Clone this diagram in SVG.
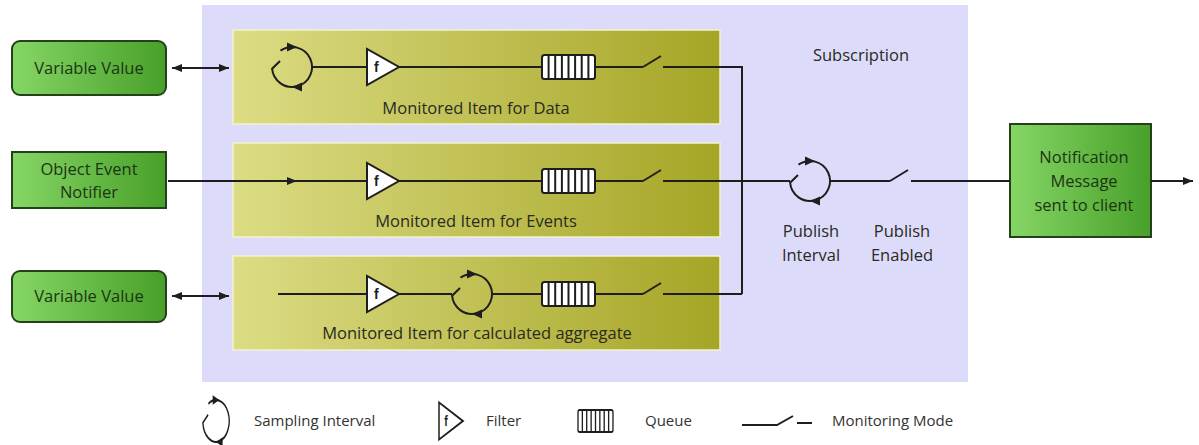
<svg xmlns="http://www.w3.org/2000/svg" width="1199" height="445" viewBox="0 0 1199 445">
<style>
.lbl{font-family:"Open Sans","Liberation Sans",sans-serif;font-size:16.5px;fill:#2a2a22;text-anchor:middle}
.glbl{font-family:"Open Sans","Liberation Sans",sans-serif;font-size:16.5px;fill:#1c3512;text-anchor:middle}
.leg{font-family:"Open Sans","Liberation Sans",sans-serif;font-size:15px;fill:#333}
.ln{stroke:#1e1e1e;stroke-width:2;fill:none}
.mi{fill:url(#mig);stroke:#f2f2d0;stroke-width:1.5}
.gb{fill:url(#gg);stroke:#23421a;stroke-width:2}
.sym{stroke:#1e1e1e;stroke-width:2;fill:none}
.ah{fill:#1e1e1e}
.flt{fill:#fff;stroke:#1e1e1e;stroke-width:2}
.fx{font-family:"Liberation Sans",sans-serif;font-weight:bold;font-size:14px;fill:#1e1e1e}
.q{fill:#fff;stroke:#1e1e1e;stroke-width:2}
</style>
<defs>
<linearGradient id="mig" x1="0" y1="0" x2="1" y2="0">
<stop offset="0" stop-color="#dcdc84"/>
<stop offset="1" stop-color="#a5a526"/>
</linearGradient>
<linearGradient id="gg" x1="0" y1="0" x2="1" y2="0">
<stop offset="0" stop-color="#86d665"/>
<stop offset="1" stop-color="#48a02a"/>
</linearGradient>
<marker id="arr" viewBox="0 0 10 8" refX="10" refY="4" markerWidth="11" markerHeight="8" markerUnits="userSpaceOnUse" orient="auto-start-reverse">
<path d="M0,0 L10,4 L0,8 Z" fill="#1e1e1e"/>
</marker>
<g id="samp">
<path class="sym" d="M-11.5,-16.4 A20,20 0 1 1 -19.9,1.7 L-12,-6"/>
<path class="ah" d="M5,-20 L-5,-24.5 L-5,-15.5 Z"/>
<path class="ah" d="M0,20 L10,15.5 L10,24.5 Z"/>
</g>
<g id="filt">
<path class="flt" d="M0,-18 L0,18 L32,0 Z"/>
<text class="fx" x="7" y="5">f</text>
</g>
<g id="queue">
<rect class="q" x="0" y="-12" width="53" height="24" rx="2.5"/>
<path class="sym" d="M6.6,-12V12M13.2,-12V12M19.9,-12V12M26.5,-12V12M33.1,-12V12M39.7,-12V12M46.4,-12V12"/>
</g>
<g id="switch">
<path class="sym" d="M0,0 L18,-11"/>
</g>
</defs>

<g id="subscription">
<rect x="202" y="5" width="766" height="377" fill="#dcdcfa"/>
<text class="lbl" x="861" y="61">Subscription</text>
</g>

<g id="mi-data">
<rect class="mi" x="233" y="30" width="487" height="94"/>
<text class="lbl" x="476" y="114">Monitored Item for Data</text>
</g>
<g id="mi-events">
<rect class="mi" x="233" y="143" width="487" height="94"/>
<text class="lbl" x="476" y="227">Monitored Item for Events</text>
</g>
<g id="mi-agg">
<rect class="mi" x="233" y="256" width="487" height="94"/>
<text class="lbl" x="477" y="339">Monitored Item for calculated aggregate</text>
</g>

<g id="var-value-1">
<rect class="gb" x="12" y="41" width="154" height="54" rx="8"/>
<text class="glbl" x="89" y="74">Variable Value</text>
</g>
<g id="object-event-notifier">
<rect class="gb" x="12" y="152" width="154" height="56"/>
<text class="glbl" x="89" y="175">Object Event</text>
<text class="glbl" x="89" y="198">Notifier</text>
</g>
<g id="var-value-2">
<rect class="gb" x="12" y="271" width="154" height="51" rx="8"/>
<text class="glbl" x="89" y="302">Variable Value</text>
</g>
<g id="notification-message">
<rect class="gb" x="1010" y="124" width="141" height="113"/>
<text class="glbl" x="1084" y="163">Notification</text>
<text class="glbl" x="1084" y="187">Message</text>
<text class="glbl" x="1084" y="211">sent to client</text>
</g>

<g id="connectors">
<path class="ln" d="M172,68 H229" marker-start="url(#arr)" marker-end="url(#arr)"/>
<path class="ln" d="M172,296 H229" marker-start="url(#arr)" marker-end="url(#arr)"/>
<path class="ln" d="M168,181 H297" marker-end="url(#arr)"/>
<path class="ln" d="M297,181 H367"/>
<!-- row 1 -->
<path class="ln" d="M312,67 H367 M399,67 H542 M595,67 H643 M663,67 H742 V294"/>
<!-- row 2 -->
<path class="ln" d="M399,181 H542 M595,181 H643 M663,181 H790 M830,181 H890 M911,181 H1010"/>
<!-- row 3 -->
<path class="ln" d="M278,294 H367 M399,294 H452 M492,294 H542 M595,294 H643 M663,294 H742"/>
<path class="ln" d="M1151,181 H1193" marker-end="url(#arr)"/>
</g>

<g id="sampling-data"><use href="#samp" x="292" y="67"/></g>
<g id="filter-data"><use href="#filt" x="367" y="67"/></g>
<g id="queue-data"><use href="#queue" x="542" y="67"/></g>
<g id="switch-data"><use href="#switch" x="643" y="67"/></g>

<g id="filter-events"><use href="#filt" x="367" y="181"/></g>
<g id="queue-events"><use href="#queue" x="542" y="181"/></g>
<g id="switch-events"><use href="#switch" x="643" y="181"/></g>

<g id="filter-agg"><use href="#filt" x="367" y="294"/></g>
<g id="sampling-agg"><use href="#samp" x="472" y="294"/></g>
<g id="queue-agg"><use href="#queue" x="542" y="294"/></g>
<g id="switch-agg"><use href="#switch" x="643" y="294"/></g>

<g id="publish-interval">
<use href="#samp" x="810" y="181"/>
<text class="lbl" x="811" y="237">Publish</text>
<text class="lbl" x="811" y="261">Interval</text>
</g>
<g id="publish-enabled">
<use href="#switch" x="890" y="181"/>
<text class="lbl" x="902" y="237">Publish</text>
<text class="lbl" x="902" y="261">Enabled</text>
</g>

<g id="legend">
<g transform="translate(216,421) scale(0.66,1.05)"><use href="#samp"/></g>
<text class="leg" x="254" y="426">Sampling Interval</text>
<g transform="translate(439,421) scale(0.75,1.03)"><use href="#filt"/></g>
<text class="leg" x="486" y="426">Filter</text>
<g transform="translate(578,421) scale(0.66,0.92)"><use href="#queue"/></g>
<text class="leg" x="645" y="426">Queue</text>
<path class="sym" d="M742,425 H777 L793,416 M797,423 H812"/>
<text class="leg" x="832" y="426">Monitoring Mode</text>
</g>
</svg>
